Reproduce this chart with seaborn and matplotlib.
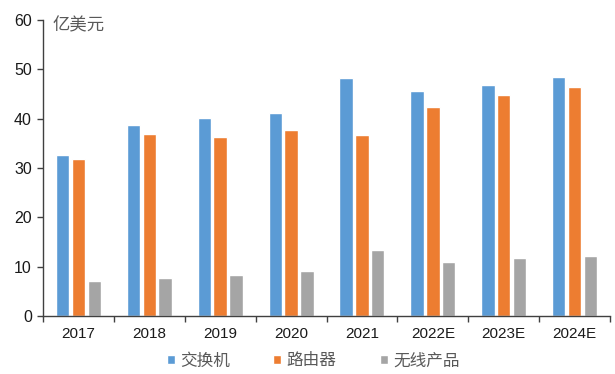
import matplotlib
matplotlib.use("Agg")
import matplotlib.pyplot as plt
import seaborn as sns
import pandas as pd
import numpy as np
from matplotlib.ticker import FixedLocator

years = ["2017", "2018", "2019", "2020", "2021", "2022E", "2023E", "2024E"]
switch = [32.6, 38.7, 40.1, 41.1, 48.2, 45.6, 46.9, 48.5]
router = [31.8, 36.9, 36.3, 37.7, 36.6, 42.4, 44.8, 46.4]
wireless = [7.0, 7.8, 8.3, 9.1, 13.3, 11.0, 11.7, 12.2]
series = ["交换机", "路由器", "无线产品"]
colors = ["#5B9BD5", "#ED7D31", "#A5A5A5"]
yticks = [0, 10, 20, 30, 40, 50, 60]
unit = "亿美元"

df = pd.DataFrame({
    "year": years * 3,
    "value": switch + router + wireless,
    "series": [series[0]] * 8 + [series[1]] * 8 + [series[2]] * 8,
})

sns.set_theme(style="white")
plt.rcParams["font.family"] = ["Liberation Sans", "Noto Sans CJK SC", "DejaVu Sans"]

fig = plt.figure(figsize=(6.15, 3.74), dpi=100)
ax = fig.add_axes([43/615, 1-316/374, (610-43)/615, (316-20)/374])

sns.barplot(data=df, x="year", y="value", hue="series", order=years,
            hue_order=series, palette=colors, width=0.67, gap=0.15,
            saturation=1, ax=ax, legend=True)

ax.set_xlim(-0.5, len(years) - 0.5)
ax.set_ylim(0, 60)
ax.set_yticks(yticks)
ax.set_xlabel("")
ax.set_ylabel("")
for s in ["top", "right"]:
    ax.spines[s].set_visible(False)
for s in ["left", "bottom"]:
    ax.spines[s].set_color("#404040")
    ax.spines[s].set_linewidth(1.0)

ax.tick_params(axis="y", which="major", direction="out", length=4, width=1,
               color="#404040", labelsize=11.5, labelcolor="#1a1a1a", pad=4, left=True)
ax.tick_params(axis="x", which="major", length=0, labelsize=11,
               labelcolor="#1a1a1a", pad=8)
ax.xaxis.set_minor_locator(FixedLocator(np.arange(-0.5, len(years), 1.0)))
ax.tick_params(axis="x", which="minor", direction="out", length=4, width=1,
               color="#404040", bottom=True)

ax.text(0.017, 0.981, unit, transform=ax.transAxes, ha="left", va="center",
        fontsize=12.5, color="#595959", family=["Noto Sans CJK SC", "DejaVu Sans"])

h, l = ax.get_legend_handles_labels()
ax.legend_.remove()
fig.legend(h, l, loc="center", bbox_to_anchor=(313/615, 1-361/374), ncol=3,
           frameon=False, handlelength=0.5, handleheight=0.5, handletextpad=0.3,
           columnspacing=2.6, prop={"family": ["Noto Sans CJK SC", "DejaVu Sans"], "size": 12},
           labelcolor="#595959")

fig.savefig("out.png", dpi=100)
